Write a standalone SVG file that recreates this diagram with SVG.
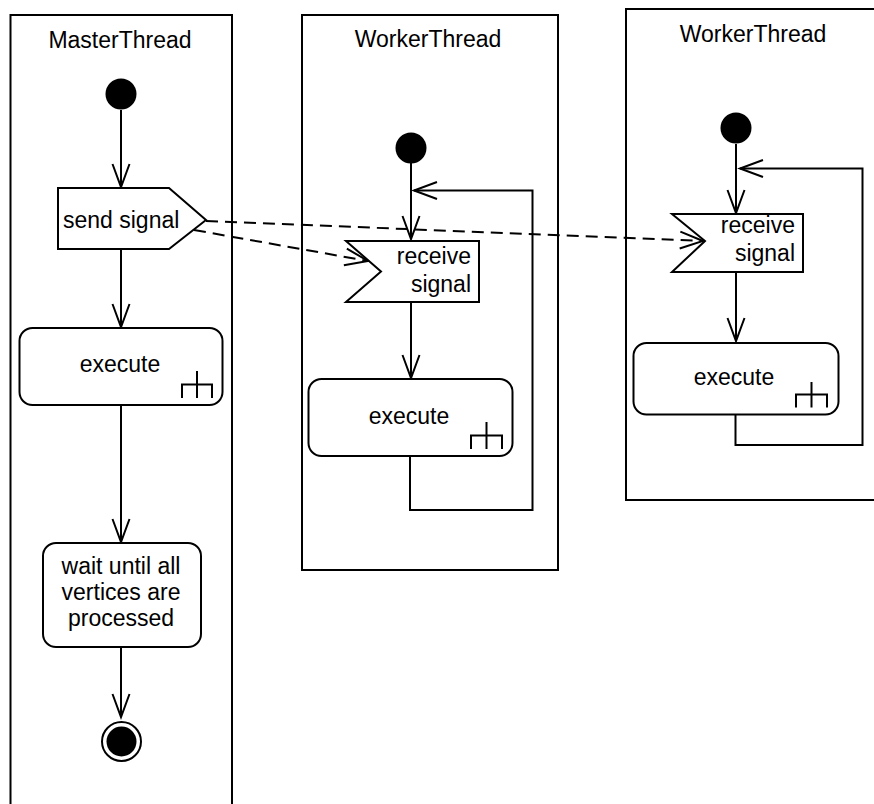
<svg xmlns="http://www.w3.org/2000/svg" width="874" height="804" viewBox="0 0 874 804">
  <style>
    .lane { fill: none; stroke: #000; stroke-width: 2; }
    .shape { fill: #fff; stroke: #000; stroke-width: 2; }
    .rake { fill: none; stroke: #000; stroke-width: 2; }
    .flow { fill: none; stroke: #000; stroke-width: 2; }
    .signal { fill: none; stroke: #000; stroke-width: 2; stroke-dasharray: 12 7; }
    .label { font-family: "Liberation Sans", Arial, sans-serif; font-size: 23px; fill: #000; }
    .mid { text-anchor: middle; }
    .end { text-anchor: end; }
  </style>
  <defs>
    <marker id="open-arrow" markerUnits="userSpaceOnUse" viewBox="0 0 30 20" refX="26" refY="10" markerWidth="30" markerHeight="20" orient="auto">
      <path d="M3,1.5 L26,10 L3,18.5" fill="none" stroke="#000" stroke-width="2"/>
    </marker>
  </defs>

  <!-- swimlanes -->
  <g id="lane-master">
    <path class="lane" d="M10.5,810 V15 H232 V810"/>
    <text class="label mid" x="120" y="48">MasterThread</text>
  </g>
  <g id="lane-worker-1">
    <rect class="lane" x="302" y="15" width="256" height="555"/>
    <text class="label mid" x="428" y="47">WorkerThread</text>
  </g>
  <g id="lane-worker-2">
    <rect class="lane" x="626" y="9" width="260" height="491"/>
    <text class="label mid" x="753" y="42">WorkerThread</text>
  </g>

  <!-- connectors -->
  <g id="connectors">
    <line class="flow" x1="121" y1="110" x2="121" y2="187" marker-end="url(#open-arrow)"/>
    <line class="flow" x1="121" y1="249" x2="121" y2="327" marker-end="url(#open-arrow)"/>
    <line class="flow" x1="121" y1="405" x2="121" y2="542" marker-end="url(#open-arrow)"/>
    <line class="flow" x1="121" y1="647" x2="121" y2="717" marker-end="url(#open-arrow)"/>

    <line class="flow" x1="411" y1="163" x2="411" y2="239" marker-end="url(#open-arrow)"/>
    <line class="flow" x1="411" y1="302" x2="411" y2="378" marker-end="url(#open-arrow)"/>
    <path class="flow" d="M410,456 V510 H532.5 V190.5 H414" marker-end="url(#open-arrow)"/>

    <line class="flow" x1="736" y1="144" x2="736" y2="213" marker-end="url(#open-arrow)"/>
    <line class="flow" x1="736" y1="272" x2="736" y2="341" marker-end="url(#open-arrow)"/>
    <path class="flow" d="M735.5,414 V445 H862.5 V168.5 H740" marker-end="url(#open-arrow)"/>

    <line class="signal" x1="206" y1="221" x2="703" y2="241" marker-end="url(#open-arrow)"/>
    <line class="signal" x1="194" y1="230" x2="368" y2="261" marker-end="url(#open-arrow)"/>
  </g>

  <!-- MasterThread nodes -->
  <g id="master-start">
    <circle cx="121" cy="94" r="15.5" fill="#000"/>
  </g>
  <g id="master-send-signal">
    <polygon class="shape" points="58,188 169,188 206,220 169,249 58,249"/>
    <text class="label" x="63" y="228">send signal</text>
  </g>
  <g id="master-execute">
    <rect class="shape" x="19.5" y="328" width="203" height="77" rx="13"/>
    <text class="label mid" x="120" y="372">execute</text>
    <path class="rake" d="M182,398 V384.5 H212 V398 M197,371 V398"/>
  </g>
  <g id="master-wait">
    <rect class="shape" x="43" y="543" width="158" height="104" rx="13"/>
    <text class="label mid" x="121" y="574">wait until all</text>
    <text class="label mid" x="121" y="600">vertices are</text>
    <text class="label mid" x="121" y="626">processed</text>
  </g>
  <g id="master-end">
    <circle cx="121.5" cy="741.5" r="19.5" fill="#fff" stroke="#000" stroke-width="2"/>
    <circle cx="121.5" cy="741.5" r="15" fill="#000"/>
  </g>

  <!-- first WorkerThread nodes -->
  <g id="worker1-start">
    <circle cx="411" cy="148" r="15.5" fill="#000"/>
  </g>
  <g id="worker1-receive">
    <polygon class="shape" points="346,241 479,241 479,302 346,302 381,271.5"/>
    <text class="label end" x="471" y="264">receive</text>
    <text class="label end" x="471" y="292">signal</text>
  </g>
  <g id="worker1-execute">
    <rect class="shape" x="308.5" y="379" width="204" height="77" rx="13"/>
    <text class="label mid" x="409" y="424">execute</text>
    <path class="rake" d="M471,449 V435.5 H502 V449 M486.5,422 V449"/>
  </g>

  <!-- second WorkerThread nodes -->
  <g id="worker2-start">
    <circle cx="736" cy="128" r="15.5" fill="#000"/>
  </g>
  <g id="worker2-receive">
    <polygon class="shape" points="672,214 803,214 803,272 672,272 705,241"/>
    <text class="label end" x="795" y="233">receive</text>
    <text class="label end" x="795" y="261">signal</text>
  </g>
  <g id="worker2-execute">
    <rect class="shape" x="633.5" y="343" width="205" height="71.5" rx="13"/>
    <text class="label mid" x="734" y="385">execute</text>
    <path class="rake" d="M796,407.5 V394.5 H827 V407.5 M811.5,382 V407.5"/>
  </g>
</svg>
